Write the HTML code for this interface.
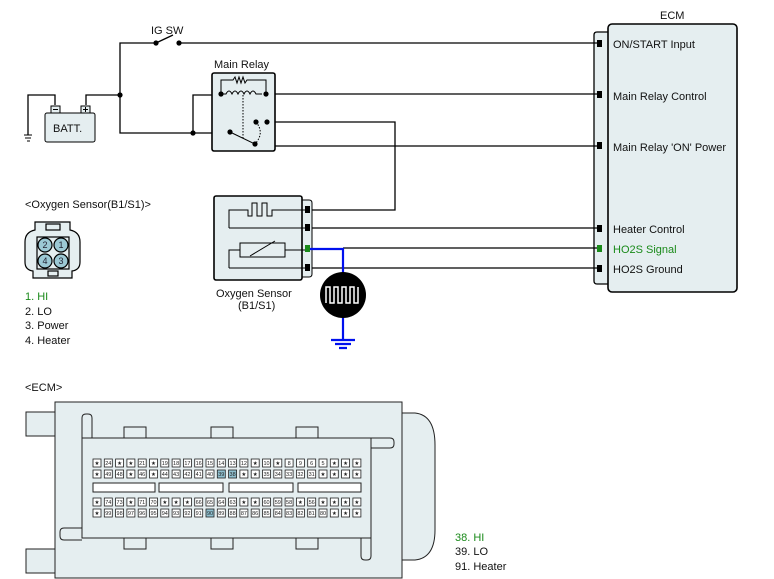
<!DOCTYPE html>
<html><head><meta charset="utf-8"><style>
html,body{margin:0;padding:0;background:#fff;}
svg{display:block;font-family:"Liberation Sans",sans-serif;}
.p rect{fill:#fff;stroke:#222;stroke-width:.8}
.p text{font-size:5.5px;text-anchor:middle;fill:#222}
</style></head><body>
<svg width="774" height="579" viewBox="0 0 774 579" xmlns="http://www.w3.org/2000/svg">
<g fill="none" stroke="#000" stroke-width="1.3">
<path d="M608 32 H597 Q594 32 594 35 V281 Q594 284 597 284 H608" fill="#e5eef0"/>
<rect x="608" y="24" width="129" height="268" rx="4" fill="#e5eef0" stroke-width="1.6"/>
<path d="M120 95 V43 H156 M156 43 L173 35 M179 43 H600"/>
<path d="M28 135 V95 H55 V105 M86 105 V95 H120 V133 H230"/>
<path d="M193 133 V95 H221"/>
<path d="M266 94 H600"/>
<path d="M267 122 H395 V210 H310 M267 122 V146 H600"/>
<path d="M310 228 H600 M343 248 H600 M310 268 H600"/>
<rect x="45" y="113" width="50" height="29" rx="2" fill="#e5eef0" stroke-width="1"/>
<rect x="51" y="106" width="9" height="7" fill="#e5eef0" stroke-width="1"/>
<rect x="81" y="106" width="9" height="7" fill="#e5eef0" stroke-width="1"/>
<path d="M53 109.5 H58 M83 109.5 H88 M85.5 107 V112" stroke-width="1"/>
<path d="M24 135 H32 M25 138 H31 M27 141 H30" stroke-width="1"/>
<rect x="212" y="73" width="63" height="78" rx="2" fill="#e5eef0" stroke-width="1.6"/>
<path d="M221 94 V80 H233 l2-3 2 6 2-6 2 6 2-6 2 6 2-3 H266 V94" stroke-width="1"/>
<path d="M221 94 h5 q3-6 6 0 q3-6 6 0 q3-6 6 0 q3-6 6 0 q3-6 6 0 h6" stroke-width="1"/>
<path d="M243 95 V140" stroke-dasharray="1.5 1.5" stroke-width="1"/>
<path d="M230 132 L255 144" stroke-width="1"/>
<path d="M256 122 Q265 133 255 144" stroke-dasharray="1.5 1.5" stroke-width="1"/>
<path d="M302 200 H309 Q312 200 312 203 V274 Q312 277 309 277 H302" fill="#e5eef0" stroke-width="1"/>
<rect x="214" y="196" width="88" height="84" rx="2" fill="#e5eef0" stroke-width="1.6"/>
<path d="M229 228 V210 H248 V216 H252 V203 H257 V216 H262 V203 H267 V216 H272 V210 H305 M229 228 H305" stroke-width="1"/>
<path d="M229 268 V250 H240 M285 250 H305 M229 268 H305" stroke-width="1"/>
<rect x="240" y="243" width="45" height="14" stroke-width="1"/>
<path d="M250 256 L275 241" stroke-width="1"/>
</g>
<g fill="#000">
<rect x="597" y="40" width="5" height="7"/><rect x="597" y="91" width="5" height="7"/><rect x="597" y="142" width="5" height="7"/>
<rect x="597" y="225" width="5" height="7"/><rect x="597" y="265" width="5" height="7"/>
<rect x="305" y="206" width="5" height="7"/><rect x="305" y="224" width="5" height="7"/><rect x="305" y="264" width="5" height="7"/>
<circle cx="120" cy="95" r="2.6"/><circle cx="156" cy="43" r="2.6"/><circle cx="179" cy="43" r="2.6"/><circle cx="193" cy="133" r="2.6"/>
<circle cx="221" cy="94" r="2.6"/><circle cx="266" cy="94" r="2.6"/><circle cx="230" cy="132" r="2.6"/><circle cx="255" cy="144" r="2.6"/>
<circle cx="256" cy="122" r="2.6"/><circle cx="267" cy="122" r="2.6"/>
</g>
<rect x="597" y="245" width="5" height="7" fill="#1a8a1a"/>
<rect x="305" y="245" width="5" height="7" fill="#1a8a1a"/>
<path d="M310 249 H343 V275 M343 317 V340 M331 340 H355 M335 344 H351 M339 348 H347" fill="none" stroke="#0010ee" stroke-width="2.2"/>
<circle cx="343" cy="295" r="23" fill="#000"/>
<path d="M326 303 V287 H330 V303 H334 V287 H338 V303 H342 V287 H346 V303 H350 V287 H354 V303 H358 V287" fill="none" stroke="#fff" stroke-width="1.5"/>
<g font-size="11" fill="#111">
<text x="151" y="34">IG SW</text>
<text x="214" y="68">Main Relay</text>
<text x="53" y="132">BATT.</text>
<text x="660" y="19">ECM</text>
<text x="613" y="48">ON/START Input</text>
<text x="613" y="100">Main Relay Control</text>
<text x="613" y="151">Main Relay 'ON' Power</text>
<text x="613" y="233">Heater Control</text>
<text x="613" y="253" fill="#1a8a1a">HO2S  Signal</text>
<text x="613" y="273">HO2S  Ground</text>
<text x="216" y="297">Oxygen Sensor</text>
<text x="238" y="309">(B1/S1)</text>
<text x="25" y="208">&lt;Oxygen Sensor(B1/S1)&gt;</text>
<text x="25" y="300" fill="#1a8a1a">1. HI</text>
<text x="25" y="315">2. LO</text>
<text x="25" y="329">3. Power</text>
<text x="25" y="344">4. Heater</text>
<text x="25" y="391">&lt;ECM&gt;</text>
<text x="455" y="541" fill="#1a8a1a">38. HI</text>
<text x="455" y="555">39. LO</text>
<text x="455" y="570">91. Heater</text>
</g>
<g fill="#e5eef0" stroke="#000" stroke-width="1.2">
<path d="M35 222 H70 V230 Q80 232 80 242 V262 Q80 270 72 271 V278 H33 V271 Q25 270 25 262 V242 Q25 232 35 230 Z"/>
<rect x="46" y="224" width="14" height="6"/>
<rect x="48" y="271" width="10" height="5"/>
<rect x="37" y="237" width="32" height="32"/>
<g fill="#9cc8d4"><circle cx="45" cy="245" r="7"/><circle cx="61" cy="245" r="7"/><circle cx="45" cy="261" r="7"/><circle cx="61" cy="261" r="7"/></g>
</g>
<g font-size="9" fill="#223" text-anchor="middle"><text x="45" y="248">2</text><text x="61" y="248">1</text><text x="45" y="264">4</text><text x="61" y="264">3</text></g>
<g fill="#e5eef0" stroke="#222" stroke-width="1">
<rect x="26" y="412" width="30" height="24"/><rect x="26" y="549" width="30" height="24"/>
<path d="M400 413 H415 Q435 415 435 445 V530 Q435 558 415 560 H400 Z"/>
<rect x="55" y="402" width="347" height="176"/>
<path d="M82 438 V418 Q82 414 86 414 H88 Q92 414 92 418 V438"/>
<path d="M82 528 H64 Q60 528 60 532 V536 Q60 540 64 540 H82"/>
<path d="M371 438 H390 Q394 438 394 442 V444 Q394 448 390 448 H371"/>
<path d="M361 538 V556 Q361 560 365 560 H367 Q371 560 371 556 V538"/>
<rect x="124" y="427" width="22" height="11"/><rect x="211" y="427" width="22" height="11"/><rect x="296" y="427" width="22" height="11"/>
<rect x="124" y="538" width="22" height="11"/><rect x="211" y="538" width="22" height="11"/><rect x="296" y="538" width="22" height="11"/>
<rect x="82" y="438" width="289" height="100"/>
<rect x="93" y="483" width="62" height="9" fill="#fff"/><rect x="159" y="483" width="64" height="9" fill="#fff"/>
<rect x="229" y="483" width="64" height="9" fill="#fff"/><rect x="298" y="483" width="63" height="9" fill="#fff"/>
</g>
<g class="p">
<g transform="translate(93,459)">
<rect x="0" width="8" height="8"/><rect x="11.3" width="8" height="8"/><rect x="22.6" width="8" height="8"/><rect x="33.9" width="8" height="8"/><rect x="45.2" width="8" height="8"/><rect x="56.5" width="8" height="8"/><rect x="67.8" width="8" height="8"/><rect x="79.1" width="8" height="8"/><rect x="90.4" width="8" height="8"/><rect x="101.7" width="8" height="8"/><rect x="113" width="8" height="8"/><rect x="124.3" width="8" height="8"/><rect x="135.6" width="8" height="8"/><rect x="146.9" width="8" height="8"/><rect x="158.2" width="8" height="8"/><rect x="169.5" width="8" height="8"/><rect x="180.8" width="8" height="8"/><rect x="192.1" width="8" height="8"/><rect x="203.4" width="8" height="8"/><rect x="214.7" width="8" height="8"/><rect x="226" width="8" height="8"/><rect x="237.3" width="8" height="8"/><rect x="248.6" width="8" height="8"/><rect x="259.9" width="8" height="8"/>
<text x="4" y="6">★</text><text x="15.3" y="6">24</text><text x="26.6" y="6">★</text><text x="37.9" y="6">★</text><text x="49.2" y="6">21</text><text x="60.5" y="6">★</text><text x="71.8" y="6">19</text><text x="83.1" y="6">18</text><text x="94.4" y="6">17</text><text x="105.7" y="6">16</text><text x="117" y="6">15</text><text x="128.3" y="6">14</text><text x="139.6" y="6">13</text><text x="150.9" y="6">12</text><text x="162.2" y="6">★</text><text x="173.5" y="6">10</text><text x="184.8" y="6">★</text><text x="196.1" y="6">8</text><text x="207.4" y="6">9</text><text x="218.7" y="6">6</text><text x="230" y="6">5</text><text x="241.3" y="6">★</text><text x="252.6" y="6">★</text><text x="263.9" y="6">★</text>
</g>
<g transform="translate(93,470)">
<rect x="0" width="8" height="8"/><rect x="11.3" width="8" height="8"/><rect x="22.6" width="8" height="8"/><rect x="33.9" width="8" height="8"/><rect x="45.2" width="8" height="8"/><rect x="56.5" width="8" height="8"/><rect x="67.8" width="8" height="8"/><rect x="79.1" width="8" height="8"/><rect x="90.4" width="8" height="8"/><rect x="101.7" width="8" height="8"/><rect x="113" width="8" height="8"/><rect x="124.3" width="8" height="8" style="fill:#8fc0d0"/><rect x="135.6" width="8" height="8" style="fill:#8fc0d0"/><rect x="146.9" width="8" height="8"/><rect x="158.2" width="8" height="8"/><rect x="169.5" width="8" height="8"/><rect x="180.8" width="8" height="8"/><rect x="192.1" width="8" height="8"/><rect x="203.4" width="8" height="8"/><rect x="214.7" width="8" height="8"/><rect x="226" width="8" height="8"/><rect x="237.3" width="8" height="8"/><rect x="248.6" width="8" height="8"/><rect x="259.9" width="8" height="8"/>
<text x="4" y="6">★</text><text x="15.3" y="6">49</text><text x="26.6" y="6">48</text><text x="37.9" y="6">★</text><text x="49.2" y="6">46</text><text x="60.5" y="6">★</text><text x="71.8" y="6">44</text><text x="83.1" y="6">43</text><text x="94.4" y="6">42</text><text x="105.7" y="6">41</text><text x="117" y="6">40</text><text x="128.3" y="6">39</text><text x="139.6" y="6">38</text><text x="150.9" y="6">★</text><text x="162.2" y="6">★</text><text x="173.5" y="6">35</text><text x="184.8" y="6">34</text><text x="196.1" y="6">33</text><text x="207.4" y="6">32</text><text x="218.7" y="6">31</text><text x="230" y="6">★</text><text x="241.3" y="6">★</text><text x="252.6" y="6">★</text><text x="263.9" y="6">★</text>
</g>
<g transform="translate(93,498)">
<rect x="0" width="8" height="8"/><rect x="11.3" width="8" height="8"/><rect x="22.6" width="8" height="8"/><rect x="33.9" width="8" height="8"/><rect x="45.2" width="8" height="8"/><rect x="56.5" width="8" height="8"/><rect x="67.8" width="8" height="8"/><rect x="79.1" width="8" height="8"/><rect x="90.4" width="8" height="8"/><rect x="101.7" width="8" height="8"/><rect x="113" width="8" height="8"/><rect x="124.3" width="8" height="8"/><rect x="135.6" width="8" height="8"/><rect x="146.9" width="8" height="8"/><rect x="158.2" width="8" height="8"/><rect x="169.5" width="8" height="8"/><rect x="180.8" width="8" height="8"/><rect x="192.1" width="8" height="8"/><rect x="203.4" width="8" height="8"/><rect x="214.7" width="8" height="8"/><rect x="226" width="8" height="8"/><rect x="237.3" width="8" height="8"/><rect x="248.6" width="8" height="8"/><rect x="259.9" width="8" height="8"/>
<text x="4" y="6">★</text><text x="15.3" y="6">74</text><text x="26.6" y="6">73</text><text x="37.9" y="6">★</text><text x="49.2" y="6">71</text><text x="60.5" y="6">70</text><text x="71.8" y="6">★</text><text x="83.1" y="6">★</text><text x="94.4" y="6">★</text><text x="105.7" y="6">66</text><text x="117" y="6">65</text><text x="128.3" y="6">64</text><text x="139.6" y="6">63</text><text x="150.9" y="6">★</text><text x="162.2" y="6">★</text><text x="173.5" y="6">60</text><text x="184.8" y="6">59</text><text x="196.1" y="6">58</text><text x="207.4" y="6">★</text><text x="218.7" y="6">56</text><text x="230" y="6">★</text><text x="241.3" y="6">★</text><text x="252.6" y="6">★</text><text x="263.9" y="6">★</text>
</g>
<g transform="translate(93,509)">
<rect x="0" width="8" height="8"/><rect x="11.3" width="8" height="8"/><rect x="22.6" width="8" height="8"/><rect x="33.9" width="8" height="8"/><rect x="45.2" width="8" height="8"/><rect x="56.5" width="8" height="8"/><rect x="67.8" width="8" height="8"/><rect x="79.1" width="8" height="8"/><rect x="90.4" width="8" height="8"/><rect x="101.7" width="8" height="8"/><rect x="113" width="8" height="8" style="fill:#8fc0d0"/><rect x="124.3" width="8" height="8"/><rect x="135.6" width="8" height="8"/><rect x="146.9" width="8" height="8"/><rect x="158.2" width="8" height="8"/><rect x="169.5" width="8" height="8"/><rect x="180.8" width="8" height="8"/><rect x="192.1" width="8" height="8"/><rect x="203.4" width="8" height="8"/><rect x="214.7" width="8" height="8"/><rect x="226" width="8" height="8"/><rect x="237.3" width="8" height="8"/><rect x="248.6" width="8" height="8"/><rect x="259.9" width="8" height="8"/>
<text x="4" y="6">★</text><text x="15.3" y="6">99</text><text x="26.6" y="6">98</text><text x="37.9" y="6">97</text><text x="49.2" y="6">96</text><text x="60.5" y="6">95</text><text x="71.8" y="6">94</text><text x="83.1" y="6">93</text><text x="94.4" y="6">92</text><text x="105.7" y="6">91</text><text x="117" y="6">90</text><text x="128.3" y="6">89</text><text x="139.6" y="6">88</text><text x="150.9" y="6">87</text><text x="162.2" y="6">86</text><text x="173.5" y="6">85</text><text x="184.8" y="6">84</text><text x="196.1" y="6">83</text><text x="207.4" y="6">82</text><text x="218.7" y="6">81</text><text x="230" y="6">80</text><text x="241.3" y="6">★</text><text x="252.6" y="6">★</text><text x="263.9" y="6">★</text>
</g>
</g>
</svg>
</body></html>
